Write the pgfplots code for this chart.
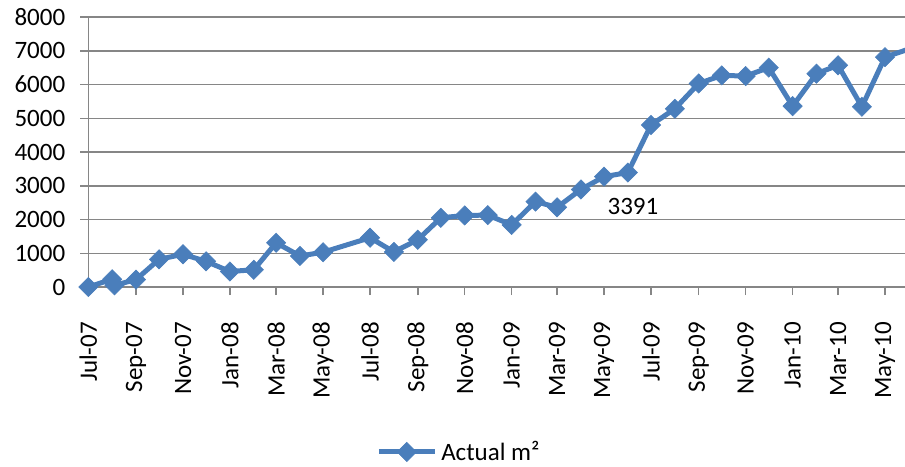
\documentclass[border=0pt]{standalone}
\usepackage{pgfplots}
\pgfplotsset{compat=1.18}
\usepackage{fontspec}
\setmainfont{Carlito}
\definecolor{xlblue}{RGB}{74,126,187}
\definecolor{xlgrid}{RGB}{134,134,134}
\newcommand{\lblfont}{\fontsize{12.5}{15}\selectfont}
\begin{document}
\begin{tikzpicture}
\begin{axis}[
  name=ax,
  scale only axis,
  width=408.35pt, height=135pt,
  xmin=0, xmax=1061, ymin=0, ymax=8000,
  axis x line*=bottom, axis y line*=left,
  axis line style={xlgrid, line width=0.75pt, -},
  ytick={0,1000,...,8000},
  scaled y ticks=false,
  /pgf/number format/1000 sep={},
  /pgf/number format/assume math mode=true,
  ymajorgrids,
  grid style={xlgrid, line width=0.75pt},
  xtick={0,62,123,184,244,305,366,428,489,550,609,670,731,793,854,915,974,1035},
  xticklabels={Jul-07,Sep-07,Nov-07,Jan-08,Mar-08,May-08,Jul-08,Sep-08,Nov-08,Jan-09,Mar-09,May-09,Jul-09,Sep-09,Nov-09,Jan-10,Mar-10,May-10},
  tick align=outside,
  major tick length=4pt,
  tick style={xlgrid, line width=0.75pt},
  every tick label/.append style={font=\lblfont},
  xticklabel style={rotate=90, anchor=east},
  xticklabel shift=10pt,
  yticklabel shift=4pt,
  clip marker paths=false,
  legend style={at={(0.455,-0.611)}, anchor=center, draw=none, fill=none, font=\lblfont, inner sep=1pt},
  legend image code/.code={\draw[mark repeat=2,mark phase=2,#1] plot coordinates {(0pt,0pt) (14pt,0pt) (28pt,0pt)};},
]
\addplot[color=xlblue, line width=2.5pt, mark=square*, mark size=3.4pt,
  mark options={rotate=45, solid, fill=xlblue, draw=xlblue, line width=0.3pt}]
  coordinates {
  (0,0) (31,230) (34,50) (62,220) (92,820) (123,970) (153,760) (184,460)
  (215,510) (244,1310) (275,920) (305,1030) (366,1460) (397,1040) (428,1400)
  (458,2050) (489,2120) (519,2130) (550,1840) (581,2530) (609,2360) (640,2890)
  (670,3270) (701,3391) (731,4800) (762,5280) (793,6030) (823,6270) (854,6250)
  (884,6500) (915,5360) (946,6320) (974,6570) (1005,5340) (1035,6810) (1066,7050)
  };
\addlegendentry{Actual m²}
\node[font=\lblfont] at (axis cs:707.6,2400) {3391};
\end{axis}
\pgfresetboundingbox
\path ([xshift=-44.15pt,yshift=-89.5pt]ax.south west) rectangle ([yshift=8.5pt]ax.north east);
\end{tikzpicture}
\end{document}
